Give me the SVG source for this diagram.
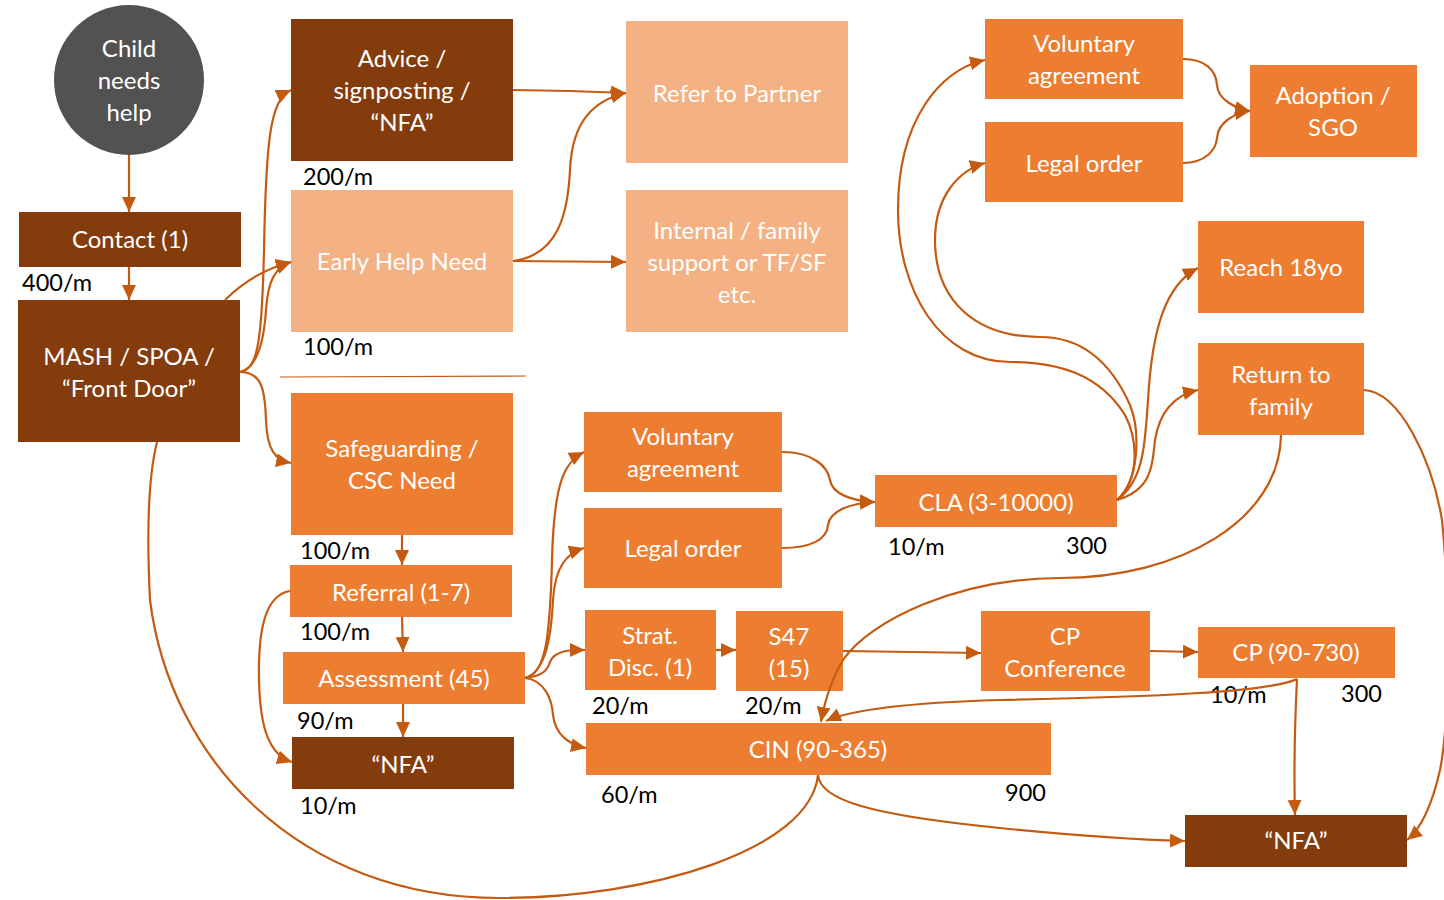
<svg xmlns="http://www.w3.org/2000/svg" width="1444" height="900" viewBox="0 0 1444 900">
<style>
.dk{fill:#843C0C}
.or{fill:#ED7D31}
.pe{fill:#F4B183}
.t{font-family:Lato,"Open Sans","Liberation Sans",sans-serif;font-size:24px;fill:#ffffff;text-anchor:middle}
.l{font-family:Lato,"Open Sans","Liberation Sans",sans-serif;font-size:23.5px;fill:#000000}
.c{fill:none;stroke:#C55A11;stroke-width:2.2}
.a{marker-end:url(#ah)}
</style>
<defs>
<marker id="ah" markerUnits="userSpaceOnUse" markerWidth="16" markerHeight="14" refX="15" refY="7" orient="auto">
<path d="M0,0 L15,7 L0,14 z" fill="#C55A11"/>
</marker>
</defs>
<rect width="1444" height="900" fill="#ffffff"/>

<g id="nodes">
<g id="child"><circle cx="129" cy="80" r="75" fill="#525252"/><text class="t" x="129" y="57">Child</text><text class="t" x="129" y="89">needs</text><text class="t" x="129" y="121">help</text></g>
<g id="contact"><rect class="dk" x="19" y="212" width="222" height="55"/><text class="t" x="130" y="248">Contact (1)</text></g>
<g id="mash"><rect class="dk" x="18" y="300" width="222" height="142"/><text class="t" x="129" y="365">MASH / SPOA /</text><text class="t" x="129" y="397">“Front Door”</text></g>
<g id="advice"><rect class="dk" x="291" y="19" width="222" height="142"/><text class="t" x="402" y="67">Advice /</text><text class="t" x="402" y="99">signposting /</text><text class="t" x="402" y="131">“NFA”</text></g>
<g id="earlyhelp"><rect class="pe" x="291" y="190" width="222" height="142"/><text class="t" x="402" y="270">Early Help Need</text></g>
<g id="safeguarding"><rect class="or" x="291" y="393" width="222" height="142"/><text class="t" x="402" y="457">Safeguarding /</text><text class="t" x="402" y="489">CSC Need</text></g>
<g id="referral"><rect class="or" x="290" y="565" width="222" height="52"/><text class="t" x="401" y="601">Referral (1-7)</text></g>
<g id="assessment"><rect class="or" x="283" y="652" width="242" height="52"/><text class="t" x="404" y="687">Assessment (45)</text></g>
<g id="nfa1"><rect class="dk" x="292" y="737" width="222" height="52"/><text class="t" x="403" y="773">“NFA”</text></g>
<g id="partner"><rect class="pe" x="626" y="21" width="222" height="142"/><text class="t" x="737" y="102">Refer to Partner</text></g>
<g id="internal"><rect class="pe" x="626" y="190" width="222" height="142"/><text class="t" x="737" y="239">Internal / family</text><text class="t" x="737" y="271">support or TF/SF</text><text class="t" x="737" y="303">etc.</text></g>
<g id="vol1"><rect class="or" x="985" y="19" width="198" height="80"/><text class="t" x="1084" y="52">Voluntary</text><text class="t" x="1084" y="84">agreement</text></g>
<g id="legal1"><rect class="or" x="985" y="122" width="198" height="80"/><text class="t" x="1084" y="172">Legal order</text></g>
<g id="adoption"><rect class="or" x="1250" y="65" width="167" height="92"/><text class="t" x="1333" y="104">Adoption /</text><text class="t" x="1333" y="136">SGO</text></g>
<g id="reach"><rect class="or" x="1198" y="221" width="166" height="92"/><text class="t" x="1281" y="276">Reach 18yo</text></g>
<g id="return"><rect class="or" x="1198" y="343" width="166" height="92"/><text class="t" x="1281" y="383">Return to</text><text class="t" x="1281" y="415">family</text></g>
<g id="vol2"><rect class="or" x="584" y="412" width="198" height="80"/><text class="t" x="683" y="445">Voluntary</text><text class="t" x="683" y="477">agreement</text></g>
<g id="legal2"><rect class="or" x="584" y="508" width="198" height="80"/><text class="t" x="683" y="557">Legal order</text></g>
<g id="cla"><rect class="or" x="875" y="475" width="242" height="52"/><text class="t" x="996" y="511">CLA (3-10000)</text></g>
<g id="strat"><rect class="or" x="585" y="610" width="131" height="80"/><text class="t" x="650" y="644">Strat.</text><text class="t" x="650" y="676">Disc. (1)</text></g>
<g id="s47"><rect class="or" x="736" y="611" width="107" height="80"/><text class="t" x="789" y="645">S47</text><text class="t" x="789" y="677">(15)</text></g>
<g id="cpconf"><rect class="or" x="981" y="611" width="169" height="80"/><text class="t" x="1065" y="645">CP</text><text class="t" x="1065" y="677">Conference</text></g>
<g id="cp"><rect class="or" x="1198" y="627" width="197" height="51"/><text class="t" x="1296" y="661">CP (90-730)</text></g>
<g id="cin"><rect class="or" x="586" y="723" width="465" height="52"/><text class="t" x="818" y="758">CIN (90-365)</text></g>
<g id="nfa2"><rect class="dk" x="1185" y="815" width="222" height="52"/><text class="t" x="1296" y="849">“NFA”</text></g>
</g>

<g id="labels">
<text class="l" x="22" y="291">400/m</text>
<text class="l" x="303" y="185">200/m</text>
<text class="l" x="303" y="355">100/m</text>
<text class="l" x="300" y="559">100/m</text>
<text class="l" x="300" y="640">100/m</text>
<text class="l" x="297" y="729">90/m</text>
<text class="l" x="300" y="814">10/m</text>
<text class="l" x="592" y="714">20/m</text>
<text class="l" x="745" y="714">20/m</text>
<text class="l" x="888" y="555">10/m</text>
<text class="l" x="1066" y="554">300</text>
<text class="l" x="601" y="803">60/m</text>
<text class="l" x="1005" y="801">900</text>
<text class="l" x="1210" y="703">10/m</text>
<text class="l" x="1341" y="702">300</text>
</g>

<g id="connectors">
<line x1="280" y1="377" x2="526" y2="376" stroke="#C55A11" stroke-width="1.2"/>
<path class="c a" d="M129,155 L129,212"/>
<path class="c a" d="M129,267 L129,300"/>
<path class="c a" d="M240,372 C258,370 262,340 264,250 C266,140 270,100 291,90"/>
<path class="c a" d="M225,300 C240,285 260,270 291,262"/>
<path class="c a" d="M240,372 C258,368 264,340 266,310 C268,280 275,268 291,262"/>
<path class="c a" d="M240,372 C262,372 265,390 266,420 C267,450 275,460 291,463"/>
<path class="c a" d="M513,90 L570,91 L626,93"/>
<path class="c a" d="M513,261 C560,255 568,210 570,170 C572,120 595,100 626,93"/>
<path class="c a" d="M513,261 L626,262"/>
<path class="c a" d="M402,535 L402,565"/>
<path class="c a" d="M402,617 L403,652"/>
<path class="c a" d="M403,704 L403,737"/>
<path class="c a" d="M290,591 C265,595 258,630 259,680 C260,730 270,755 292,762"/>
<path class="c a" d="M525,678 C545,675 550,640 552,560 C554,480 565,462 584,452"/>
<path class="c a" d="M525,678 C545,672 551,640 553,600 C555,565 568,553 584,548"/>
<path class="c a" d="M525,678 C545,676 548,668 550,662 C555,650 570,650 585,650"/>
<path class="c a" d="M525,678 C545,680 552,700 553,715 C555,735 570,745 586,748"/>
<path class="c a" d="M782,452 C815,452 828,468 830,480 C832,494 852,501 875,502"/>
<path class="c a" d="M782,548 C810,548 827,540 828,525 C830,510 852,503 875,502"/>
<path class="c a" d="M716,650 L736,650"/>
<path class="c a" d="M843,651 L981,653"/>
<path class="c a" d="M1150,651 L1198,652"/>
<path class="c a" d="M1117,500 C1140,480 1138,440 1125,415 C1100,375 1060,362 1010,362 C940,362 898,290 898,210 C898,120 940,70 985,60"/>
<path class="c a" d="M1117,500 C1140,480 1140,430 1130,405 C1110,360 1080,337 1040,337 C975,337 935,300 935,240 C935,195 960,170 985,163"/>
<path class="c a" d="M1117,500 C1145,480 1145,440 1148,400 C1152,330 1165,285 1198,268"/>
<path class="c a" d="M1117,500 C1150,490 1152,470 1155,440 C1160,410 1175,395 1198,390"/>
<path class="c a" d="M1183,59 C1205,59 1216,70 1217,85 C1218,100 1235,108 1250,111"/>
<path class="c a" d="M1183,163 C1205,163 1216,150 1217,138 C1218,122 1235,113 1250,111"/>
<path class="c a" d="M1281,435 C1280,520 1180,578 1060,578 C960,578 870,620 843,660 C832,678 825,700 821,722"/>
<path class="c a" d="M1297,679 C1270,692 1150,697 1000,700 C900,703 850,710 826,721"/>
<path class="c a" d="M1297,679 C1295,720 1294,780 1295,815"/>
<path class="c a" d="M818,775 C820,800 870,815 1000,828 C1100,838 1150,840 1185,841"/>
<path class="c" d="M818,775 C810,850 650,898 500,898 C300,898 170,760 150,600 C146,520 150,470 157,442"/>
<path class="c a" d="M1364,390 C1400,392 1432,460 1442,520 C1450,600 1450,720 1440,770 C1432,805 1422,828 1407,840"/>
</g>
</svg>
